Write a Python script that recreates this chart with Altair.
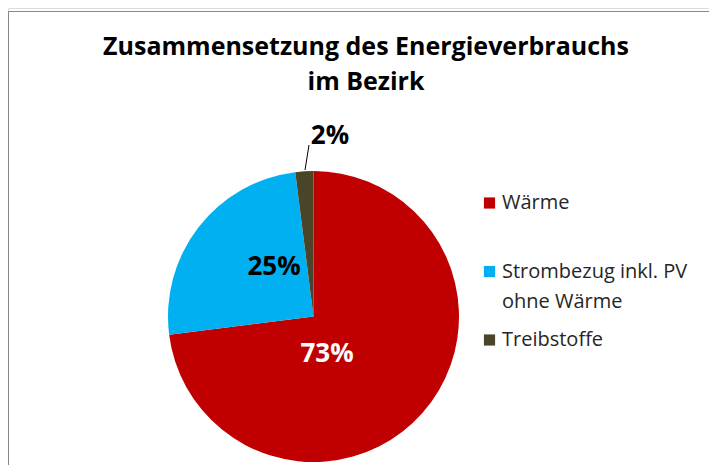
import altair as alt
import pandas as pd

# ---- data ----
categories = ["Wärme", "Strombezug inkl. PV ohne Wärme", "Treibstoffe"]
shares = [73, 25, 2]
pct_labels = ["73%", "25%", "2%"]
legend_labels = ["Wärme", "Strombezug inkl. PV\nohne Wärme", "Treibstoffe"]
colors = ["#C00000", "#00B0F0", "#4A4428"]
title_lines = ["Zusammensetzung des Energieverbrauchs", "im Bezirk"]

df = pd.DataFrame({
    "cat": categories,
    "value": shares,
    "label": pct_labels,
    "legend": legend_labels,
    "order": list(range(len(categories))),
})

FONT = "Open Sans"
CX, CY, R = 305.5, 308.5, 145.5
W, H = 701, 457

color = alt.Color("cat:N", scale=alt.Scale(domain=categories, range=colors), legend=None)
theta_scale = alt.Scale(domain=[0, 100])

base = alt.Chart(df)

pie = base.mark_arc(radius=R).encode(
    theta=alt.Theta("value:Q", stack=True, scale=theta_scale),
    order=alt.Order("order:Q"),
    color=color,
    x=alt.value(CX),
    y=alt.value(CY),
)

lab = base.transform_window(
    cum="sum(value)", sort=[alt.SortField("order")]
).transform_calculate(mid="datum.cum - datum.value / 2")


def pct(cat, r, dx, dy, col):
    return lab.transform_filter(alt.datum.cat == cat).mark_text(
        radius=r, dx=dx, dy=dy, font=FONT, fontSize=26, fontWeight="bold",
        color=col, align="center", baseline="middle",
    ).encode(
        theta=alt.Theta("mid:Q", scale=theta_scale),
        text="label:N",
        x=alt.value(CX),
        y=alt.value(CY),
    )


t73 = pct("Wärme", 40, -16.5, 11, "white")
t25 = pct("Strombezug inkl. PV ohne Wärme", 63, 10.3, -10.9, "black")
t2 = pct("Treibstoffe", 180, 27.8, -0.8, "black")

leader = lab.transform_filter(alt.datum.cat == "Treibstoffe").mark_rule(
    color="black", strokeWidth=1
).encode(x=alt.value(297), y=alt.value(162), x2=alt.value(301), y2=alt.value(137))

leg_y = alt.Y("order:Q", scale=alt.Scale(domain=[0, 2], range=[195, 332]), axis=None)
leg_sq = base.mark_square(size=125, opacity=1).encode(
    x=alt.value(481.5), y=leg_y, color=color
)
leg_tx = base.mark_text(
    align="left", baseline="alphabetic", dy=6, lineBreak="\n", lineHeight=30,
    font=FONT, fontSize=20, color="#262626",
).encode(x=alt.value(494), y=leg_y, text="legend:N")

first = base.transform_filter(alt.datum.order == 0)
border_top = first.mark_rule(color="#888888", strokeWidth=1).encode(
    x=alt.value(0), x2=alt.value(W), y=alt.value(3.5)
)
border_left = first.mark_rule(color="#888888", strokeWidth=1).encode(
    x=alt.value(0.5), y=alt.value(3.5), y2=alt.value(H)
)

chart = alt.layer(
    border_top, border_left, pie, t73, t25, t2, leader, leg_sq, leg_tx
).properties(
    width=W,
    height=H,
    padding=0,
    autosize=alt.AutoSizeParams(type="none"),
    title=alt.TitleParams(
        text=title_lines, font=FONT, fontSize=25, fontWeight="bold",
        color="black", anchor="middle", baseline="alphabetic",
        offset=-107, lineHeight=35, dx=7.5,
    ),
).configure_view(stroke=None).configure(background="white")

chart.save("out.html", embed_options={"renderer": "svg", "actions": False})
